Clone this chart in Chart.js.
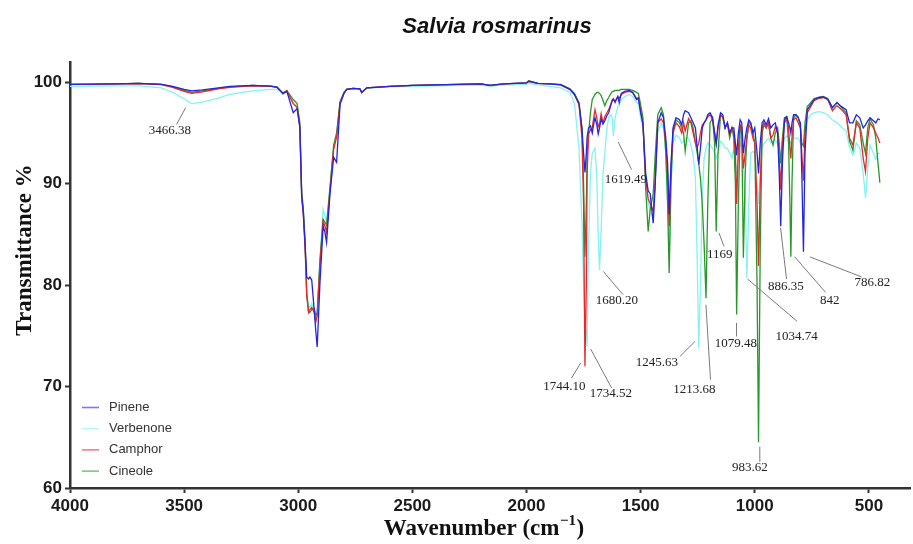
<!DOCTYPE html>
<html>
<head>
<meta charset="utf-8">
<title>Salvia rosmarinus FTIR</title>
<script src="https://cdn.jsdelivr.net/npm/chart.js@4.4.1/dist/chart.umd.min.js"></script>
<style>
  html, body { margin: 0; padding: 0; background: #ffffff; }
  #wrap { width: 913px; height: 544px; }
</style>
</head>
<body>
<div id="wrap"><canvas id="spectrum" width="913" height="544"></canvas></div>
<script>
// Wavenumber grid (cm-1), shared by the four spectra
const wavenumber = [
  4000, 3900, 3800, 3700, 3600, 3550, 3500, 3466.38, 3420, 3350, 3300, 3200, 3120,
  3093, 3067, 3050, 3022, 3005, 2993, 2985, 2978, 2970, 2963, 2955, 2949, 2941, 2930,
  2923, 2917, 2905, 2891, 2883, 2876, 2861, 2845, 2832, 2817, 2800, 2788, 2760, 2730, 2722, 2700,
  2600, 2500, 2400, 2300, 2200, 2160, 2100, 2000, 1990, 1950, 1900, 1850, 1810,
  1790, 1770, 1757, 1750, 1744.10, 1738, 1734.52, 1728, 1720, 1712, 1705, 1700, 1692, 1686,
  1680.20, 1673, 1665, 1657, 1648, 1640, 1630, 1624, 1619.49, 1612, 1600, 1594, 1585, 1570,
  1550, 1535, 1518, 1510,
  1500, 1490, 1478, 1467, 1458, 1445, 1437, 1425, 1410, 1400, 1390, 1382, 1375, 1367, 1358,
  1345, 1330, 1320, 1312, 1305, 1290, 1280, 1270, 1260, 1252, 1245.63, 1238, 1230, 1222,
  1213.68, 1206, 1196, 1185, 1176, 1169, 1161, 1150, 1140, 1130, 1120, 1110, 1100, 1092,
  1085, 1079.48, 1072, 1064, 1057, 1050, 1042, 1034.74, 1026, 1018, 1008, 1000, 990, 983.62,
  976, 968,
  960, 950, 940, 930, 920, 910, 900, 893, 886.35, 879, 870, 860, 852, 846, 842, 837, 830,
  820, 810, 800, 794, 786.82, 780, 770, 755, 740, 720, 700, 680, 660, 640, 620, 600, 585,
  570, 555, 540, 525, 515, 505, 495, 480, 470, 460, 452
];

// Transmittance (%) of each constituent
const pinene = [
  99.8, 99.82, 99.85, 99.9, 99.8, 99.6, 99.3, 99.15, 99.25, 99.45, 99.6, 99.7, 99.62,
  99.5, 98.9, 99.1, 97.0, 97.4, 95.6, 88.8, 87.2, 84.0, 80.8, 80.6, 80.8, 80.5, 77.5,
  75.4, 73.9, 80.2, 85.8, 85.2, 84.2, 89.0, 92.6, 92.1, 97.8, 98.9, 99.3, 99.4, 99.35, 99.0, 99.45,
  99.6, 99.7, 99.75, 99.8, 99.85, 99.7, 99.85, 99.95, 100.1, 99.9, 99.85, 99.75, 99.3,
  98.8, 97.9, 95.4, 93.0, 91.1, 93.0, 94.6, 95.5, 95.7, 95.0, 96.0, 96.5, 95.8, 94.9,
  95.5, 96.4, 95.9, 96.2, 96.7, 97.0, 97.8, 98.2, 98.3, 98.1, 98.6, 98.0, 98.9, 99.1,
  99.2, 99.0, 98.3, 98.4,
  97.0, 95.9, 91.0, 89.3, 89.0, 86.1, 89.5, 96.0, 97.0, 96.5, 94.5, 92.0, 87.0, 92.0, 95.5,
  96.5, 96.3, 95.8, 96.8, 97.2, 97.0, 96.5, 96.0, 95.5, 93.5, 91.9, 93.5, 95.5, 96.0,
  96.3, 96.8, 97.0, 96.5, 95.0, 93.9, 95.8, 97.0, 96.8, 95.5, 96.0, 95.0, 95.5, 95.5,
  94.0, 92.8, 95.0, 96.3, 96.0, 93.0, 94.5, 95.5, 96.3, 96.0, 95.0, 95.5, 93.0, 91.0,
  94.0, 96.0,
  96.3, 95.8, 96.4, 95.5, 95.8, 96.0, 95.0, 91.0, 85.8, 92.0, 96.3, 96.6, 96.0, 95.5, 95.0, 96.0, 96.8,
  96.8, 96.5, 96.0, 91.0, 83.3, 93.0, 97.3, 97.8, 98.3, 98.5, 98.55, 98.3, 97.5, 98.0, 97.6, 97.3, 96.0,
  96.0, 96.8, 96.5, 95.5, 95.8, 96.2, 96.5, 96.2, 96.0, 96.4, 96.3
];
const verbenone = [
  99.6, 99.62, 99.65, 99.65, 99.45, 99.0, 98.35, 97.9, 98.05, 98.45, 98.8, 99.15, 99.3,
  99.3, 98.95, 99.1, 98.0, 97.6, 95.8, 88.8, 87.4, 84.0, 79.5, 77.9, 77.8, 78.2, 77.6,
  76.6, 77.0, 82.6, 87.5, 86.8, 86.2, 89.8, 93.6, 94.8, 98.0, 98.9, 99.3, 99.35, 99.3, 99.0, 99.4,
  99.55, 99.6, 99.65, 99.7, 99.75, 99.6, 99.75, 99.8, 99.9, 99.75, 99.6, 99.45, 99.0,
  97.9, 93.5, 86.0, 80.0, 76.5, 75.0, 74.0, 84.0, 91.0, 93.0, 93.3, 93.5, 90.5, 85.0,
  81.5, 85.5, 91.0, 93.0, 95.5, 96.5, 96.8, 96.5, 94.7, 96.5, 97.6, 97.8, 98.2, 98.6,
  98.8, 98.6, 98.0, 97.9,
  96.5, 95.5, 91.0, 88.0, 87.5, 86.5, 90.0, 95.0, 96.0, 95.5, 93.0, 89.0, 82.5, 90.0, 94.0,
  94.8, 94.5, 94.0, 94.2, 94.5, 94.5, 93.8, 92.8, 90.5, 82.0, 73.8, 80.0, 89.0, 92.5,
  93.5, 94.0, 93.8, 93.5, 93.0, 92.5, 93.0, 94.2, 94.0, 93.5, 93.5, 93.0, 92.5, 93.5,
  92.0, 91.0, 93.0, 94.0, 93.5, 91.5, 89.0, 80.7, 88.0, 93.0, 93.2, 93.0, 90.0, 88.0,
  91.0, 93.5,
  94.0, 94.2, 94.5, 94.0, 94.2, 94.3, 94.0, 93.5, 92.8, 93.5, 94.5, 94.7, 94.5, 94.2, 94.0, 94.3, 94.5,
  94.5, 94.5, 94.0, 93.8, 94.0, 94.8, 96.3, 96.8, 97.0, 97.1, 97.0, 96.8, 96.3, 96.0, 95.6, 95.2, 93.6,
  92.8, 94.0, 93.5, 91.0, 88.6, 91.5, 93.8, 93.0, 92.4, 93.0, 93.0
];
const camphor = [
  99.8, 99.8, 99.85, 99.88, 99.78, 99.5, 99.1, 98.9, 99.05, 99.35, 99.5, 99.65, 99.6,
  99.5, 98.95, 99.15, 97.9, 97.5, 95.5, 88.6, 87.0, 83.6, 79.0, 77.3, 77.6, 77.8, 77.3,
  76.4, 77.0, 82.0, 86.3, 85.8, 85.2, 89.3, 93.4, 94.6, 98.0, 98.9, 99.3, 99.4, 99.35, 99.0, 99.45,
  99.6, 99.7, 99.75, 99.8, 99.85, 99.7, 99.85, 99.95, 100.1, 99.9, 99.85, 99.75, 99.3,
  98.8, 97.8, 94.5, 88.0, 72.0, 80.0, 91.0, 94.9, 95.3, 95.5, 96.6, 97.3, 96.5, 95.6,
  95.9, 96.9, 96.0, 96.6, 97.0, 97.3, 97.9, 98.3, 98.4, 98.0, 98.6, 98.4, 98.8, 99.0,
  99.1, 99.0, 98.4, 98.5,
  97.2, 95.9, 90.5, 88.5, 88.0, 87.3, 90.0, 96.0, 96.4, 96.0, 94.0, 91.0, 85.8, 91.5, 95.0,
  96.0, 95.6, 95.0, 96.0, 95.2, 96.4, 96.0, 95.0, 94.0, 93.6, 94.0, 95.0, 95.8, 96.0,
  96.3, 96.6, 96.8, 96.3, 95.0, 94.0, 95.5, 96.8, 96.5, 95.5, 96.0, 94.8, 95.5, 95.0,
  93.0, 88.0, 93.5, 95.8, 95.5, 91.5, 93.0, 94.5, 95.8, 95.5, 94.5, 94.0, 88.0, 81.9,
  90.0, 95.5,
  96.0, 95.5, 96.0, 94.5, 94.8, 95.6, 95.0, 92.5, 89.4, 94.0, 96.0, 96.4, 95.5, 93.5, 92.5, 94.5, 96.3,
  96.5, 96.0, 95.5, 93.0, 90.3, 95.0, 97.0, 97.6, 98.2, 98.4, 98.5, 98.3, 97.2, 97.7, 97.3, 96.8, 94.5,
  93.8, 96.0, 95.5, 92.5, 91.2, 94.5, 96.0, 95.5, 95.0, 94.5, 94.0
];
const cineole = [
  99.8, 99.82, 99.85, 99.9, 99.8, 99.55, 99.2, 99.0, 99.15, 99.4, 99.55, 99.7, 99.62,
  99.55, 98.85, 99.2, 98.3, 97.9, 96.0, 89.2, 87.6, 84.2, 79.2, 77.4, 77.3, 77.6, 77.7,
  77.0, 77.3, 82.4, 86.5, 86.2, 85.9, 89.6, 93.8, 95.0, 98.1, 99.0, 99.3, 99.4, 99.35, 99.0, 99.45,
  99.6, 99.7, 99.75, 99.8, 99.85, 99.7, 99.85, 99.95, 100.15, 99.9, 99.85, 99.8, 99.35,
  98.9, 98.0, 95.5, 90.0, 82.8, 88.0, 93.0, 95.0, 97.0, 98.3, 98.6, 98.8, 99.0, 99.0,
  98.9, 98.7, 98.2, 97.7, 98.2, 98.5, 98.9, 99.1, 99.1, 99.2, 99.2, 99.2, 99.3, 99.3,
  99.3, 99.2, 99.0, 98.9,
  97.8, 96.5, 89.5, 85.3, 87.5, 89.0, 92.5, 96.8, 97.5, 96.8, 93.0, 88.0, 81.2, 90.0, 95.3,
  96.3, 96.0, 95.5, 95.0, 93.2, 96.0, 96.2, 95.5, 94.0, 93.0, 92.0, 90.5, 88.0, 84.0,
  78.7, 88.0, 96.0, 96.5, 94.0, 85.3, 93.0, 96.8, 96.6, 95.5, 96.0, 94.5, 95.5, 94.5,
  90.0, 77.1, 88.0, 95.5, 95.0, 82.7, 91.0, 94.5, 96.0, 96.0, 95.0, 94.0, 80.0, 64.5,
  84.0, 95.0,
  95.8, 95.5, 96.0, 94.5, 93.8, 95.0, 95.5, 94.0, 92.0, 94.5, 96.5, 96.6, 94.0, 88.0, 82.8, 90.0, 96.5,
  96.8, 96.6, 95.5, 94.0, 93.7, 96.0, 97.6, 98.0, 98.4, 98.5, 98.6, 98.4, 97.5, 98.0, 97.5, 97.0, 94.2,
  93.3, 96.2, 95.8, 94.0, 93.0, 95.5, 96.4, 95.8, 94.5, 92.0, 90.1
];

const seriesNames = ['Pinene', 'Verbenone', 'Camphor', 'Cineole'];
const seriesColors = ['#2424e0', '#86f2f2', '#e22a2a', '#2a972a'];
const seriesValues = [pinene, verbenone, camphor, cineole];
// stacking of the traces: larger numbers sit underneath
const seriesOrder = [1, 4, 2, 3];

const xTicks = [4000, 3500, 3000, 2500, 2000, 1500, 1000, 500];
const yTicks = [60, 70, 80, 90, 100];

// band assignments written next to the peaks
const peakLabels = ['3466.38', '1619.49', '1680.20', '1744.10', '1734.52', '1245.63', '1213.68',
                    '1169', '1079.48', '1034.74', '983.62', '886.35', '842', '786.82'];
// callout geometry in axis units: leader start, leader end, text centre
const peakCallouts = [
  { from: [3493, 97.5],  to: [3533, 95.86],  at: [3562, 95.27] },
  { from: [1598, 94.1],  to: [1540, 91.4],   at: [1565, 90.42] },
  { from: [1664, 81.36], to: [1577, 79.06],  at: [1604, 78.47] },
  { from: [1763, 72.32], to: [1803, 70.83],  at: [1834, 70.0] },
  { from: [1719, 73.7],  to: [1627, 69.85],  at: [1630, 69.28] },
  { from: [1262, 74.45], to: [1328, 72.97],  at: [1429, 72.38] },
  { from: [1214, 78.07], to: [1194, 70.67],  at: [1265, 69.75] },
  { from: [1157, 85.16], to: [1135, 83.83],  at: [1153, 83.0] },
  { from: [1080, 76.27], to: [1080, 74.94],  at: [1083, 74.22] },
  { from: [1032, 80.61], to: [814, 76.42],   at: [817, 74.94] },
  { from: [978, 64.08],  to: [978, 62.6],    at: [1022, 62.04] },
  { from: [887, 85.65],  to: [861, 80.61],   at: [864, 79.88] },
  { from: [825, 82.79],  to: [690, 79.29],   at: [672, 78.47] },
  { from: [759, 82.79],  to: [532, 80.81],   at: [485, 80.22] }
];

const datasets = seriesNames.map((name, s) => ({
  label: name,
  data: wavenumber.map((w, i) => ({ x: w, y: seriesValues[s][i] })),
  borderColor: seriesColors[s],
  backgroundColor: seriesColors[s],
  borderWidth: 1.3,
  pointRadius: 0,
  tension: 0,
  fill: false,
  order: seriesOrder[s]
}));

// titles, legend and peak callouts
const decorations = {
  id: 'decorations',
  afterDraw(chart) {
    const { ctx, scales: { x, y } } = chart;
    ctx.save();

    // chart title
    ctx.fillStyle = '#111';
    ctx.font = 'italic bold 22px "Liberation Sans", Arial, sans-serif';
    ctx.textAlign = 'center';
    ctx.textBaseline = 'middle';
    ctx.fillText('Salvia rosmarinus', 497, 27);

    // y axis title
    ctx.save();
    ctx.translate(25, 250);
    ctx.rotate(-Math.PI / 2);
    ctx.font = 'bold 23px "Liberation Serif", "Times New Roman", serif';
    ctx.fillText('Transmittance %', 0, 0);
    ctx.restore();

    // x axis title with superscript
    const main = 'bold 23px "Liberation Serif", "Times New Roman", serif';
    const sup = 'bold 15px "Liberation Serif", "Times New Roman", serif';
    ctx.font = main;
    const p1 = 'Wavenumber (cm', p3 = ')';
    const w1 = ctx.measureText(p1).width, w3 = ctx.measureText(p3).width;
    ctx.font = sup;
    const p2 = '\u22121';
    const w2 = ctx.measureText(p2).width + 1;
    let cx = 484 - (w1 + w2 + w3) / 2;
    const cy = 529;
    ctx.textAlign = 'left';
    ctx.font = main; ctx.fillText(p1, cx, cy); cx += w1;
    ctx.font = sup; ctx.fillText(p2, cx + 0.5, cy - 8); cx += w2;
    ctx.font = main; ctx.fillText(p3, cx, cy);

    // legend inside the plot
    ctx.font = '13px "Liberation Sans", Arial, sans-serif';
    ctx.textBaseline = 'middle';
    chart.data.datasets.forEach((ds, i) => {
      const ly = 407.5 + i * 21.2;
      ctx.save();
      ctx.globalAlpha = 0.6;
      ctx.strokeStyle = ds.borderColor;
      ctx.lineWidth = 1.6;
      ctx.beginPath();
      ctx.moveTo(82, ly);
      ctx.lineTo(99, ly);
      ctx.stroke();
      ctx.restore();
      ctx.fillStyle = '#333';
      ctx.fillText(ds.label, 109, ly);
    });

    // peak callouts
    ctx.strokeStyle = '#7a7a7a';
    ctx.lineWidth = 1;
    ctx.fillStyle = '#222';
    ctx.font = '13px "Liberation Serif", "Times New Roman", serif';
    ctx.textAlign = 'center';
    peakCallouts.forEach((c, i) => {
      ctx.beginPath();
      ctx.moveTo(x.getPixelForValue(c.from[0]), y.getPixelForValue(c.from[1]));
      ctx.lineTo(x.getPixelForValue(c.to[0]), y.getPixelForValue(c.to[1]));
      ctx.stroke();
      ctx.fillText(peakLabels[i], x.getPixelForValue(c.at[0]), y.getPixelForValue(c.at[1]));
    });

    ctx.restore();
  }
};

const axisFont = { family: '"Liberation Sans", Arial, sans-serif', size: 17, weight: 'bold' };

new Chart(document.getElementById('spectrum'), {
  type: 'line',
  data: { datasets },
  options: {
    responsive: false,
    animation: false,
    devicePixelRatio: 1,
    parsing: true,
    layout: { padding: { top: 62, right: 3, bottom: 0, left: 0 } },
    plugins: {
      legend: { display: false },
      title: { display: false },
      tooltip: { enabled: false }
    },
    scales: {
      x: {
        type: 'linear',
        reverse: true,
        min: 320,
        max: 4000,
        afterBuildTicks(scale) { scale.ticks = xTicks.map(v => ({ value: v })); },
        afterFit(scale) { scale.height = 56; },
        ticks: {
          callback: v => String(v),
          font: axisFont,
          color: '#1a1a1a',
          padding: 3,
          maxRotation: 0,
          autoSkip: false
        },
        grid: { drawOnChartArea: false, drawTicks: true, tickLength: 5, tickWidth: 2, tickColor: '#333' },
        border: { display: true, color: '#333', width: 2.5 }
      },
      y: {
        type: 'linear',
        min: 60,
        max: 102,
        afterBuildTicks(scale) { scale.ticks = yTicks.map(v => ({ value: v })); },
        afterFit(scale) { scale.width = 70; },
        ticks: {
          callback: v => String(v),
          font: axisFont,
          color: '#1a1a1a',
          padding: 3
        },
        grid: { drawOnChartArea: false, drawTicks: true, tickLength: 5, tickWidth: 2, tickColor: '#333' },
        border: { display: true, color: '#333', width: 2.5 }
      }
    }
  },
  plugins: [decorations]
});
</script>
</body>
</html>
